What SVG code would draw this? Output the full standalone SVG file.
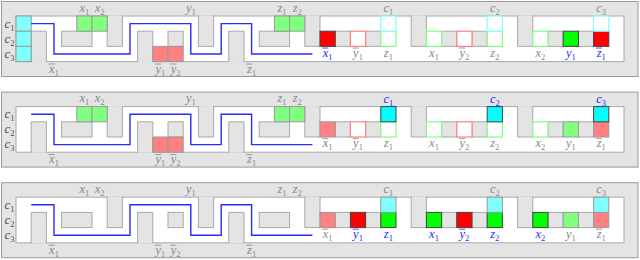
<svg xmlns="http://www.w3.org/2000/svg" xmlns:xlink="http://www.w3.org/1999/xlink" width="640" height="260" viewBox="0 0 640 260">
<style>
.outer{fill:#e4e4e4;stroke:#9a9a9a;stroke-width:1}
.inner{fill:#fff;stroke:#a8a8a8;stroke-width:1}
.blk{fill:#e4e4e4;stroke:#a8a8a8;stroke-width:1}
.lc{fill:#80ffff;stroke:#9a9a9a}
.bc{fill:#00ffff;stroke:#444}
.oc{fill:#fff;stroke:#80ffff;stroke-width:1.2}
.lg{fill:#80ff80;stroke:#9a9a9a}
.bg{fill:#00ff00;stroke:#444}
.og{fill:#fff;stroke:#80ff80;stroke-width:1.2}
.lr{fill:#ff8080;stroke:#9a9a9a}
.br{fill:#ff0000;stroke:#444}
.op{fill:#fff;stroke:#ff8080;stroke-width:1.2}
.route{fill:none;stroke:#2a2aff;stroke-width:1.4}
text{font-family:"Liberation Serif","DejaVu Serif",serif;font-style:italic;font-size:12.5px;text-anchor:middle;fill:#888}
text.cl{fill:#505050;font-size:13px}
text.bl{fill:#2a2aff}
.s{font-size:8.5px;font-style:normal}
.bar{stroke:#888;stroke-width:0.8;fill:none}
.bar.bl{stroke:#2a2aff}
</style>
<defs>
<g id="frame">
<rect class="outer" x="1.5" y="1.5" width="636.5" height="75"/>
<rect class="inner" x="16" y="16" width="608" height="45.6"/>
<path class="blk" d="M31.2,62.1V31.2H46.4V62.1"/>
<rect class="blk" x="61.6" y="31.2" width="30.4" height="15.2"/>
<path class="blk" d="M107.2,15.5V46.4H122.4V15.5"/>
<path class="blk" d="M137.6,62.1V31.2H152.8V62.1"/>
<rect class="blk" x="168" y="31.2" width="15.2" height="15.2"/>
<path class="blk" d="M198.4,15.5V46.4H213.6V15.5"/>
<path class="blk" d="M228.8,62.1V31.2H244V62.1"/>
<rect class="blk" x="259.2" y="31.2" width="30.4" height="15.2"/>
<path class="blk" d="M304.8,15.5V46.4H320V15.5"/>
<path class="blk" d="M411.2,15.5V46.4H426.4V15.5"/>
<path class="blk" d="M517.6,15.5V46.4H532.8V15.5"/>
<rect class="blk" x="335.2" y="31.2" width="15.2" height="15.2"/>
<rect class="blk" x="365.6" y="31.2" width="15.2" height="15.2"/>
<rect class="blk" x="441.6" y="31.2" width="15.2" height="15.2"/>
<rect class="blk" x="472" y="31.2" width="15.2" height="15.2"/>
<rect class="blk" x="548" y="31.2" width="15.2" height="15.2"/>
<rect class="blk" x="578.4" y="31.2" width="15.2" height="15.2"/>
</g>
<path id="route" class="route" d="M31.2,23.6H54V54H130V23.6H190.8V54H221.2V23.6H251.6V54H312.4"/>
</defs>

<!-- Panel 1 -->
<g id="panel1">
<use xlink:href="#frame"/>
<g id="p1-left-cells">
<rect class="lc" x="16" y="16" width="15.2" height="15.2"/>
<rect class="lc" x="16" y="31.2" width="15.2" height="15.2"/>
<rect class="lc" x="16" y="46.4" width="15.2" height="15.2"/>
<rect class="lg" x="76.8" y="16" width="15.2" height="15.2"/>
<rect class="lg" x="92" y="16" width="15.2" height="15.2"/>
<rect class="lr" x="152.8" y="46.4" width="15.2" height="15.2"/>
<rect class="lr" x="168" y="46.4" width="15.2" height="15.2"/>
<rect class="lg" x="274.4" y="16" width="15.2" height="15.2"/>
<rect class="lg" x="289.6" y="16" width="15.2" height="15.2"/>
</g>
<g id="p1-clause1">
<rect class="br" x="320" y="31.2" width="15.2" height="15.2"/>
<rect class="op" x="350.4" y="31.2" width="15.2" height="15.2"/>
<rect class="og" x="380.8" y="31.2" width="15.2" height="15.2"/>
<rect class="oc" x="380.8" y="16" width="15.2" height="15.2"/>
</g>
<g id="p1-clause2">
<rect class="og" x="426.4" y="31.2" width="15.2" height="15.2"/>
<rect class="op" x="456.8" y="31.2" width="15.2" height="15.2"/>
<rect class="og" x="487.2" y="31.2" width="15.2" height="15.2"/>
<rect class="oc" x="487.2" y="16" width="15.2" height="15.2"/>
</g>
<g id="p1-clause3">
<rect class="og" x="532.8" y="31.2" width="15.2" height="15.2"/>
<rect class="bg" x="563.2" y="31.2" width="15.2" height="15.2"/>
<rect class="br" x="593.6" y="31.2" width="15.2" height="15.2"/>
<rect class="oc" x="593.6" y="16" width="15.2" height="15.2"/>
</g>
<g id="p1-labels">
<text class="cl" x="9.5" y="27.5">c<tspan class="s" dy="3">1</tspan></text>
<text class="cl" x="9.5" y="42.5">c<tspan class="s" dy="3">2</tspan></text>
<text class="cl" x="9.5" y="57.5">c<tspan class="s" dy="3">3</tspan></text>
<text x="84.4" y="11.5">x<tspan class="s" dy="3">1</tspan></text>
<text x="99.6" y="11.5">x<tspan class="s" dy="3">2</tspan></text>
<text x="190.8" y="11.5">y<tspan class="s" dy="3">1</tspan></text>
<text x="282" y="11.5">z<tspan class="s" dy="3">1</tspan></text>
<text x="297.2" y="11.5">z<tspan class="s" dy="3">2</tspan></text>
<text x="54" y="72.5">x<tspan class="s" dy="3">1</tspan></text>
<text x="160.4" y="72.5">y<tspan class="s" dy="3">1</tspan></text>
<text x="175.6" y="72.5">y<tspan class="s" dy="3">2</tspan></text>
<text x="251.6" y="72.5">z<tspan class="s" dy="3">1</tspan></text>
<path class="bar" d="M48.5,64h6.3M154.9,64h6.3M170.1,64h6.3M246.1,64h6.3"/>
<text x="388.4" y="12">c<tspan class="s" dy="3">1</tspan></text>
<text x="494.8" y="12">c<tspan class="s" dy="3">2</tspan></text>
<text x="601.2" y="12">c<tspan class="s" dy="3">3</tspan></text>
<text class="bl" x="327.6" y="56.5">x<tspan class="s" dy="3">1</tspan></text>
<text x="358" y="56.5">y<tspan class="s" dy="3">1</tspan></text>
<text x="388.4" y="56.5">z<tspan class="s" dy="3">1</tspan></text>
<text x="434" y="56.5">x<tspan class="s" dy="3">1</tspan></text>
<text x="464.4" y="56.5">y<tspan class="s" dy="3">2</tspan></text>
<text x="494.8" y="56.5">z<tspan class="s" dy="3">2</tspan></text>
<text x="540.4" y="56.5">x<tspan class="s" dy="3">2</tspan></text>
<text class="bl" x="570.8" y="56.5">y<tspan class="s" dy="3">1</tspan></text>
<text class="bl" x="601.2" y="56.5">z<tspan class="s" dy="3">1</tspan></text>
<path class="bar bl" d="M322.1,48h6.3M595.7,48h6.3"/>
<path class="bar" d="M352.5,48h6.3M458.9,48h6.3"/>
</g>
</g>

<!-- Panel 2 -->
<g id="panel2" transform="translate(0,90.6)">
<use xlink:href="#frame"/>
<g id="p2-left-cells">
<rect class="lg" x="76.8" y="16" width="15.2" height="15.2"/>
<rect class="lg" x="92" y="16" width="15.2" height="15.2"/>
<rect class="lr" x="152.8" y="46.4" width="15.2" height="15.2"/>
<rect class="lr" x="168" y="46.4" width="15.2" height="15.2"/>
<rect class="lg" x="274.4" y="16" width="15.2" height="15.2"/>
<rect class="lg" x="289.6" y="16" width="15.2" height="15.2"/>
</g>
<g id="p2-clause1">
<rect class="lr" x="320" y="31.2" width="15.2" height="15.2"/>
<rect class="op" x="350.4" y="31.2" width="15.2" height="15.2"/>
<rect class="og" x="380.8" y="31.2" width="15.2" height="15.2"/>
<rect class="bc" x="380.8" y="16" width="15.2" height="15.2"/>
</g>
<g id="p2-clause2">
<rect class="og" x="426.4" y="31.2" width="15.2" height="15.2"/>
<rect class="op" x="456.8" y="31.2" width="15.2" height="15.2"/>
<rect class="og" x="487.2" y="31.2" width="15.2" height="15.2"/>
<rect class="bc" x="487.2" y="16" width="15.2" height="15.2"/>
</g>
<g id="p2-clause3">
<rect class="og" x="532.8" y="31.2" width="15.2" height="15.2"/>
<rect class="lg" x="563.2" y="31.2" width="15.2" height="15.2"/>
<rect class="lr" x="593.6" y="31.2" width="15.2" height="15.2"/>
<rect class="bc" x="593.6" y="16" width="15.2" height="15.2"/>
</g>
<g id="p2-labels">
<text class="cl" x="9.5" y="27.5">c<tspan class="s" dy="3">1</tspan></text>
<text class="cl" x="9.5" y="42.5">c<tspan class="s" dy="3">2</tspan></text>
<text class="cl" x="9.5" y="57.5">c<tspan class="s" dy="3">3</tspan></text>
<text x="84.4" y="11.5">x<tspan class="s" dy="3">1</tspan></text>
<text x="99.6" y="11.5">x<tspan class="s" dy="3">2</tspan></text>
<text x="190.8" y="11.5">y<tspan class="s" dy="3">1</tspan></text>
<text x="282" y="11.5">z<tspan class="s" dy="3">1</tspan></text>
<text x="297.2" y="11.5">z<tspan class="s" dy="3">2</tspan></text>
<text x="54" y="72.5">x<tspan class="s" dy="3">1</tspan></text>
<text x="160.4" y="72.5">y<tspan class="s" dy="3">1</tspan></text>
<text x="175.6" y="72.5">y<tspan class="s" dy="3">2</tspan></text>
<text x="251.6" y="72.5">z<tspan class="s" dy="3">1</tspan></text>
<path class="bar" d="M48.5,64h6.3M154.9,64h6.3M170.1,64h6.3M246.1,64h6.3"/>
<text class="bl" x="388.4" y="12">c<tspan class="s" dy="3">1</tspan></text>
<text class="bl" x="494.8" y="12">c<tspan class="s" dy="3">2</tspan></text>
<text class="bl" x="601.2" y="12">c<tspan class="s" dy="3">3</tspan></text>
<text x="327.6" y="56.5">x<tspan class="s" dy="3">1</tspan></text>
<text x="358" y="56.5">y<tspan class="s" dy="3">1</tspan></text>
<text x="388.4" y="56.5">z<tspan class="s" dy="3">1</tspan></text>
<text x="434" y="56.5">x<tspan class="s" dy="3">1</tspan></text>
<text x="464.4" y="56.5">y<tspan class="s" dy="3">2</tspan></text>
<text x="494.8" y="56.5">z<tspan class="s" dy="3">2</tspan></text>
<text x="540.4" y="56.5">x<tspan class="s" dy="3">2</tspan></text>
<text x="570.8" y="56.5">y<tspan class="s" dy="3">1</tspan></text>
<text x="601.2" y="56.5">z<tspan class="s" dy="3">1</tspan></text>
<path class="bar" d="M322.1,48h6.3M352.5,48h6.3M458.9,48h6.3M595.7,48h6.3"/>
</g>
</g>

<!-- Panel 3 -->
<g id="panel3" transform="translate(0,181.2)">
<use xlink:href="#frame"/>
<g id="p3-clause1">
<rect class="lr" x="320" y="31.2" width="15.2" height="15.2"/>
<rect class="br" x="350.4" y="31.2" width="15.2" height="15.2"/>
<rect class="bg" x="380.8" y="31.2" width="15.2" height="15.2"/>
<rect class="lc" x="380.8" y="16" width="15.2" height="15.2"/>
</g>
<g id="p3-clause2">
<rect class="bg" x="426.4" y="31.2" width="15.2" height="15.2"/>
<rect class="br" x="456.8" y="31.2" width="15.2" height="15.2"/>
<rect class="bg" x="487.2" y="31.2" width="15.2" height="15.2"/>
<rect class="lc" x="487.2" y="16" width="15.2" height="15.2"/>
</g>
<g id="p3-clause3">
<rect class="bg" x="532.8" y="31.2" width="15.2" height="15.2"/>
<rect class="lg" x="563.2" y="31.2" width="15.2" height="15.2"/>
<rect class="lr" x="593.6" y="31.2" width="15.2" height="15.2"/>
<rect class="lc" x="593.6" y="16" width="15.2" height="15.2"/>
</g>
<g id="p3-labels">
<text class="cl" x="9.5" y="27.5">c<tspan class="s" dy="3">1</tspan></text>
<text class="cl" x="9.5" y="42.5">c<tspan class="s" dy="3">2</tspan></text>
<text class="cl" x="9.5" y="57.5">c<tspan class="s" dy="3">3</tspan></text>
<text x="84.4" y="11.5">x<tspan class="s" dy="3">1</tspan></text>
<text x="99.6" y="11.5">x<tspan class="s" dy="3">2</tspan></text>
<text x="190.8" y="11.5">y<tspan class="s" dy="3">1</tspan></text>
<text x="282" y="11.5">z<tspan class="s" dy="3">1</tspan></text>
<text x="297.2" y="11.5">z<tspan class="s" dy="3">2</tspan></text>
<text x="54" y="72.5">x<tspan class="s" dy="3">1</tspan></text>
<text x="160.4" y="72.5">y<tspan class="s" dy="3">1</tspan></text>
<text x="175.6" y="72.5">y<tspan class="s" dy="3">2</tspan></text>
<text x="251.6" y="72.5">z<tspan class="s" dy="3">1</tspan></text>
<path class="bar" d="M48.5,64h6.3M154.9,64h6.3M170.1,64h6.3M246.1,64h6.3"/>
<text x="388.4" y="12">c<tspan class="s" dy="3">1</tspan></text>
<text x="494.8" y="12">c<tspan class="s" dy="3">2</tspan></text>
<text x="601.2" y="12">c<tspan class="s" dy="3">3</tspan></text>
<text x="327.6" y="56.5">x<tspan class="s" dy="3">1</tspan></text>
<text class="bl" x="358" y="56.5">y<tspan class="s" dy="3">1</tspan></text>
<text class="bl" x="388.4" y="56.5">z<tspan class="s" dy="3">1</tspan></text>
<text class="bl" x="434" y="56.5">x<tspan class="s" dy="3">1</tspan></text>
<text class="bl" x="464.4" y="56.5">y<tspan class="s" dy="3">2</tspan></text>
<text class="bl" x="494.8" y="56.5">z<tspan class="s" dy="3">2</tspan></text>
<text class="bl" x="540.4" y="56.5">x<tspan class="s" dy="3">2</tspan></text>
<text x="570.8" y="56.5">y<tspan class="s" dy="3">1</tspan></text>
<text x="601.2" y="56.5">z<tspan class="s" dy="3">1</tspan></text>
<path class="bar" d="M322.1,48h6.3M595.7,48h6.3"/>
<path class="bar bl" d="M352.5,48h6.3M458.9,48h6.3"/>
</g>
</g>

<g id="connectors">
<use xlink:href="#route"/>
<use xlink:href="#route" transform="translate(0,90.6)"/>
<use xlink:href="#route" transform="translate(0,181.2)"/>
</g>
</svg>
